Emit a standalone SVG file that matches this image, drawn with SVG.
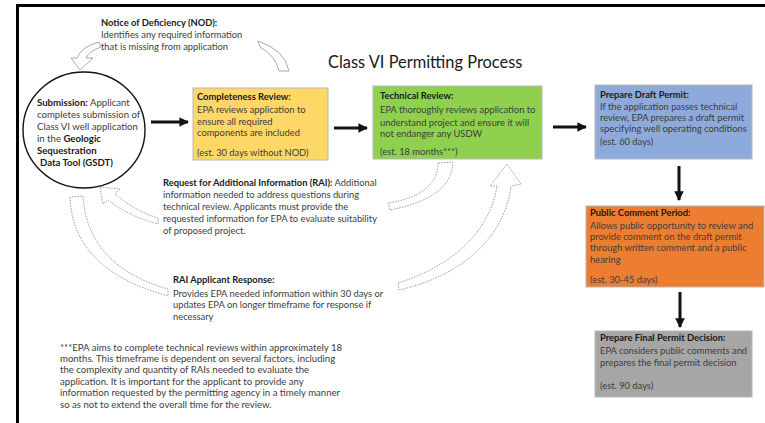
<svg xmlns="http://www.w3.org/2000/svg" width="765" height="423" viewBox="0 0 765 423">
<defs>
<style>
text{font-family:Lato,"Liberation Sans",sans-serif;font-size:9.35px;fill:#3d3d3d}
.b{font-weight:bold;fill:#1a1a1a}
.t{font-size:16.4px;fill:#1a1a1a}
.c{font-size:9.6px}
.f{font-size:9.6px}
.box{stroke:#b8b8b8;stroke-width:1}
.solid{stroke:#111;stroke-width:3;fill:none}
.curv{fill:#fff;stroke:#a0a0a0;stroke-width:0.9}
.dash{fill:#fff;stroke:#8a8a8a;stroke-width:0.8;stroke-dasharray:1.6 1.2}
</style>
<marker id="ah" viewBox="0 0 10 10" refX="9" refY="5" markerWidth="3.2" markerHeight="3.2" orient="auto" markerUnits="strokeWidth">
<path d="M0,0 L10,5 L0,10 Z" fill="#111"/>
</marker>
</defs>
<rect x="0" y="0" width="765" height="423" fill="#fff"/>
<rect x="17.5" y="5.5" width="770" height="440" fill="none" stroke="#000" stroke-width="3"/>
<text class="t" x="328" y="68">Class VI Permitting Process</text>

<g id="connectors">
<line class="solid" x1="151" y1="122" x2="188" y2="122" marker-end="url(#ah)"/>
<line class="solid" x1="334" y1="128" x2="367" y2="128" marker-end="url(#ah)"/>
<line class="solid" x1="553" y1="127" x2="586" y2="127" marker-end="url(#ah)"/>
<line class="solid" x1="679" y1="166" x2="679" y2="200" marker-end="url(#ah)"/>
<line class="solid" x1="680" y1="292" x2="680" y2="327" marker-end="url(#ah)"/>
<path class="curv" d="M99,42 Q81,47 77,58 L71,58 L80,70 L93,58 L86,58 Q89,51 101,47 Z"/>
<path class="curv" d="M258,41 Q285,50 289,71 L279,71 Q276,56 260,47 Z"/>
<path class="dash" d="M438,163 C438,185 420,198 388,203 L390,210 C425,203 452,190 453,162 Z"/>
<path class="dash" d="M100,187 L120,189 L115,194 Q135,211 158,218 L158,224 Q128,216 108,200 L103,204 Z"/>
<path class="dash" d="M70,197 C72,250 110,280 168,296 L168,289 C118,275 86,245 83,196 Z"/>
<path class="dash" d="M398,283 C455,265 490,230 497,186 L490,186 L507,164 L521,184 L511,186 C505,235 465,275 399,290 Z"/>
</g>

<g id="nod">
<text class="b" x="101" y="25.5">Notice of Deficiency (NOD):</text>
<text x="101" y="38">Identifies any required information</text>
<text x="101" y="50">that is missing from application</text>
</g>

<g id="submission">
<ellipse cx="84" cy="130" rx="61" ry="58" fill="#fff" stroke="#111" stroke-width="1.4"/>
<text x="37" y="106" class="c"><tspan class="b">Submission:</tspan> Applicant</text>
<text x="37" y="118" class="c">completes submission of</text>
<text x="37" y="130" class="c">Class VI well application</text>
<text x="37" y="142" class="c">in the <tspan class="b">Geologic</tspan></text>
<text x="37" y="154" class="c b">Sequestration</text>
<text x="40" y="166" class="c b">Data Tool (GSDT)</text>
</g>

<g id="completeness">
<rect class="box" x="193" y="88" width="135" height="72" fill="#FDD866"/>
<text class="b" x="197" y="99.5">Completeness Review:</text>
<text x="197" y="112.5">EPA reviews application to</text>
<text x="197" y="124.5">ensure all required</text>
<text x="197" y="136">components are included</text>
<text x="197" y="155.5">(est. 30 days without NOD)</text>
</g>

<g id="technical">
<rect class="box" x="373" y="86" width="169" height="73" fill="#8FD14F"/>
<text class="b" x="380" y="98.5">Technical Review:</text>
<text x="380" y="112.5">EPA thoroughly reviews application to</text>
<text x="380" y="125.5">understand project and ensure it will</text>
<text x="380" y="137">not endanger any USDW</text>
<text x="380" y="154.5">(est. 18 months***)</text>
</g>

<g id="draft">
<rect class="box" x="595" y="85" width="157" height="74" fill="#8EAADB"/>
<text class="b" x="600" y="97.5">Prepare Draft Permit:</text>
<text x="600" y="109.5">If the application passes technical</text>
<text x="600" y="121">review, EPA prepares a draft permit</text>
<text x="600" y="132">specifying well operating conditions</text>
<text x="600" y="145">(est. 60 days)</text>
</g>

<g id="public">
<rect class="box" x="586" y="206" width="178" height="81" fill="#ED7D31"/>
<text class="b" x="590" y="215.5">Public Comment Period:</text>
<text x="590" y="228.5">Allows public opportunity to review and</text>
<text x="590" y="240">provide comment on the draft permit</text>
<text x="590" y="251">through written comment and a public</text>
<text x="590" y="262.5">hearing</text>
<text x="590" y="282.5">(est. 30-45 days)</text>
</g>

<g id="final">
<rect class="box" x="595" y="331" width="157" height="66" fill="#A6A6A6"/>
<text class="b" x="600" y="340.5">Prepare Final Permit Decision:</text>
<text x="600" y="353.5">EPA considers public comments and</text>
<text x="600" y="365.5">prepares the final permit decision</text>
<text x="600" y="388.5">(est. 90 days)</text>
</g>

<g id="rai">
<text x="163" y="185.5"><tspan class="b">Request for Additional Information (RAI):</tspan> Additional</text>
<text x="163" y="197.5">information needed to address questions during</text>
<text x="163" y="209.5">technical review. Applicants must provide the</text>
<text x="163" y="221.5">requested information for EPA to evaluate suitability</text>
<text x="163" y="233.5">of proposed project.</text>
</g>

<g id="rai-response">
<text class="b" x="173" y="282.5">RAI Applicant Response:</text>
<text x="173" y="296.5">Provides EPA needed information within 30 days or</text>
<text x="173" y="308">updates EPA on longer timeframe for response if</text>
<text x="173" y="320">necessary</text>
</g>

<g id="footnote">
<text class="f" x="60" y="350.5">***EPA aims to complete technical reviews within approximately 18</text>
<text class="f" x="60" y="361.5">months. This timeframe is dependent on several factors, including</text>
<text class="f" x="60" y="372.5">the complexity and quantity of RAIs needed to evaluate the</text>
<text class="f" x="60" y="384.5">application.  It is important for the applicant to provide any</text>
<text class="f" x="60" y="395.5">information requested by the permitting agency in a timely manner</text>
<text class="f" x="60" y="407.5">so as not to extend the overall time for the review.</text>
</g>
</svg>
